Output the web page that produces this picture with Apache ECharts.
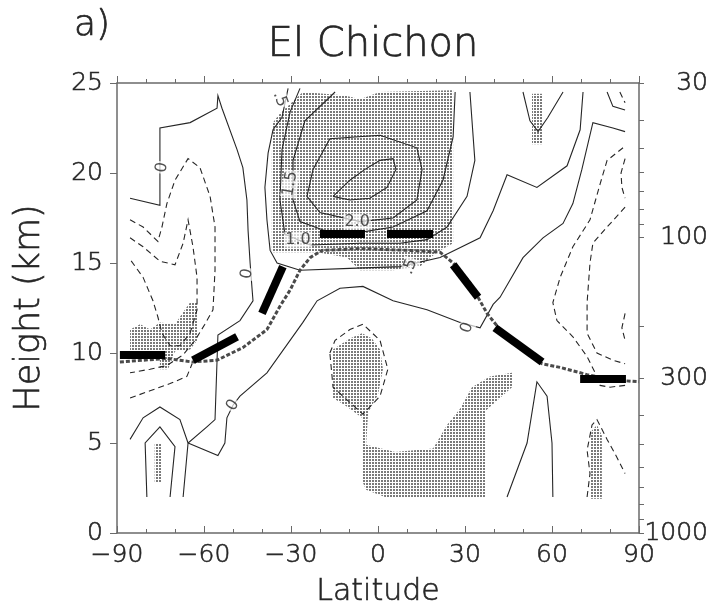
<!DOCTYPE html>
<html>
<head>
<meta charset="utf-8">
<script src="https://cdn.jsdelivr.net/npm/echarts@6/dist/echarts.min.js"></script>
<style>
  html, body { margin: 0; padding: 0; background: #fff; }
  #chart { width: 714px; height: 608px; }
</style>
</head>
<body>
<div id="chart"></div>
<script>
// ---- axes -------------------------------------------------------------
const latTicks = [-90, -60, -30, 0, 30, 60, 90];
const latTickLabels = ['−90', '−60', '−30', '0', '30', '60', '90'];
const pressureTicks = [30, 40, 50, 60, 70, 80, 90, 100, 200, 300, 400, 500, 600, 700, 800, 900, 1000];
const pressureLabels = [30, 100, 300, 1000];

// ---- tropopause (lat, km) ---------------------------------------------
const tropopause = [
  [-89, 9.5], [-72.8, 9.7], [-64.1, 9.5], [-55.5, 9.6], [-46.6, 10.3], [-38.3, 11.3],
  [-33.8, 12.6], [-30.3, 13.5], [-26.9, 14.6], [-23.4, 15.3], [-19.3, 15.7], [-6.2, 15.8],
  [11, 15.7], [21.4, 15.6], [25.9, 15.0], [31.7, 13.9], [37.6, 12.2], [42.1, 11.3],
  [49, 10.3], [56.6, 9.4], [62.8, 9.2], [72.1, 8.8], [81.7, 8.5], [90, 8.4]
];

// ---- observed tropopause segments (lat0, km0) -> (lat1, km1) ------------
const obsSegments = [
  [[-89, 9.9], [-73.4, 9.9]],
  [[-63.8, 9.6], [-48.6, 10.9]],
  [[-40, 12.2], [-32.8, 14.8]],
  [[-20, 16.6], [-4.5, 16.6]],
  [[3.1, 16.6], [19, 16.6]],
  [[25.9, 14.9], [34.5, 13.1]],
  [[40.3, 11.4], [56.6, 9.5]],
  [[69.7, 8.55], [85.5, 8.55]]
];

// ---- positive / zero contours ------------------------------------------
const c05 = [[-31.0, 24.7], [-33.1, 23.1], [-36.2, 22.4], [-37.9, 21.1], [-39.0, 19.2], [-38.3, 17.4],
  [-37.2, 15.7], [-34.8, 15.0], [-26.9, 14.6], [-9.7, 14.7], [7.6, 14.8], [21.4, 15.3], [35.2, 16.4],
  [39.7, 17.9], [44.5, 19.9], [54.8, 19.2], [65.2, 20.4], [69.7, 22.4], [70.7, 24.5]];
const c10 = [[-26.9, 24.7], [-30.3, 23.4], [-33.1, 21.3], [-33.8, 18.5], [-32.1, 16.6], [-23.4, 16.0],
  [-6.2, 16.1], [7.6, 16.1], [16.9, 16.3], [23.8, 17.0], [30.7, 18.7], [33.4, 20.7], [31.7, 24.5]];
const c15 = [[-14.8, 24.5], [-25.2, 22.9], [-29.3, 20.7], [-29.3, 18.5], [-26.9, 17.3], [-16.6, 16.7],
  [-6.2, 16.7], [5.2, 17.0], [16.9, 17.9], [22.4, 19.6], [25.9, 22.0], [26.6, 24.5]];
const c20 = [[-24.5, 18.7], [-22.4, 20.2], [-16.6, 21.9], [0.7, 22.1], [13.4, 21.4], [15.2, 20.2],
  [13.4, 18.5], [5.2, 17.5], [-6.2, 17.3], [-20.0, 17.8], [-24.5, 18.7]];
const c25 = [[-15.5, 18.7], [-9.7, 19.6], [-4.5, 20.2], [0.7, 20.7], [5.2, 20.8], [6.2, 20.2],
  [3.1, 19.2], [-2.8, 18.6], [-9.7, 18.5], [-15.5, 18.7]];
const zeroWest = [[-85.5, 18.6], [-75.2, 18.2], [-75.2, 22.5], [-64.8, 22.8], [-55.5, 23.6], [-55.2, 24.3],
  [-53.8, 23.6], [-48.6, 21.3], [-46.6, 20.3], [-45.2, 18.5], [-44.8, 16.8], [-44.1, 15.0], [-43.4, 13.5],
  [-43.1, 12.9], [-47.6, 11.8], [-55.2, 11.0], [-55.5, 9.6], [-56.2, 6.3], [-59.0, 5.9], [-65.5, 5.0], [-67.2, 2.0]];
const zeroMid = [[-65.5, 5.0], [-55.2, 4.3], [-52.8, 5.0], [-52.1, 6.4], [-50, 7.1], [-47.6, 7.6], [-38.3, 8.9],
  [-25.9, 11.7], [-21, 12.9], [-13.1, 13.6], [-5.2, 13.7], [5.2, 12.9], [16.9, 12.4], [28.3, 11.7], [35.2, 11.4],
  [39.7, 12.7], [42.1, 13.1], [50, 15.3], [56.9, 16.4], [63.8, 17.2], [67.2, 18.3], [70.3, 20.2], [74.1, 22.8],
  [81, 22.5], [85.2, 22.3]];
const zeroPolarOuter = [[-85.5, 5.2], [-81, 6.4], [-75.2, 7.0], [-68.3, 6.3], [-65.5, 5.0]];
const zeroPolarInner = [[-79.7, 2.0], [-80.3, 5.0], [-75.2, 5.9], [-70, 4.8], [-71.7, 2.0]];
const zeroNorthPeak = [[44.5, 2.0], [51.4, 5.0], [54.8, 8.4], [58.3, 7.6], [60, 5.0], [60.3, 2.0]];
const zeroTopV = [[50, 24.5], [52.4, 22.9], [55.2, 22.3], [58.6, 23.1], [63.8, 24.5]];
const zeroTopCorner = [[79, 24.5], [81, 23.7], [85.2, 23.5]];

// ---- negative contours -------------------------------------------------
const negA = [[-85.5, 17.4], [-81.0, 17.0], [-75.9, 16.2], [-74.5, 17.0], [-72.8, 18.3], [-70.0, 19.6],
  [-65.5, 20.8], [-61.4, 20.3], [-57.9, 18.7], [-56.2, 17.0], [-56.2, 14.6], [-56.9, 12.4], [-59.7, 11.6],
  [-63.1, 10.7], [-67.2, 9.9], [-72.8, 9.3], [-78.6, 9.1], [-85.5, 8.9]];
const negB = [[-85.5, 16.4], [-81.0, 15.9], [-75.2, 15.1], [-70.0, 14.9], [-67.2, 16.1], [-65.5, 17.4],
  [-63.8, 15.9], [-62.4, 14.2], [-62.4, 12.4], [-64.8, 11.1], [-68.3, 10.4], [-71.7, 10.4], [-74.5, 11.1],
  [-75.9, 12.0], [-77.6, 12.9], [-81.0, 14.2], [-85.5, 15.2]];
const negD = [[-85.5, 7.5], [-78.6, 7.9], [-71.7, 8.3], [-65.9, 8.7], [-64.1, 9.4]];
const negE = [[84.5, 21.4], [79.0, 20.7], [76.6, 19.4], [73.1, 17.4], [67.2, 15.9], [62.8, 14.2], [60.3, 12.8],
  [61.7, 11.8], [67.2, 10.9], [72.1, 9.8], [75.5, 8.7], [76.6, 8.2], [80.0, 8.1], [85.2, 8.2]];
const negF = [[85.2, 18.1], [79.0, 17.0], [74.1, 16.1], [73.1, 15.0], [72.1, 12.8], [72.1, 11.1], [75.5, 10.0],
  [81.0, 9.6], [85.2, 9.4]];
const negG = [[85.2, 20.8], [83.8, 20.0], [84.1, 19.2], [85.2, 18.6]];
const negH = [[85.2, 12.2], [84.1, 11.4], [85.2, 10.7]];
const negI = [[72.1, 2.0], [73.1, 3.3], [72.1, 4.6], [73.8, 6.0], [75.5, 6.3], [79.0, 5.2], [82.4, 4.2], [85.2, 3.3]];
const negJ = [[-16.6, 10.0], [-14.8, 10.7], [-9.7, 11.3], [-5.2, 11.6], [0.7, 10.7], [3.4, 9.1], [0.7, 7.6],
  [-5.2, 6.6], [-10.7, 7.4], [-15.5, 8.1], [-16.6, 10.0]];
const negK = [[83.4, 24.5], [85.2, 23.9]];

const solidContours = [c05, c10, c15, c20, c25, zeroWest, zeroMid, zeroPolarOuter, zeroPolarInner,
  zeroNorthPeak, zeroTopV, zeroTopCorner];
const dashedContours = [negA, negB, negD, negE, negF, negG, negH, negI, negJ, negK];

// ---- significance (stippled) regions -----------------------------------
const sigUpper = [[-25.9, 24.5], [-11.4, 24.3], [-6.2, 24.1], [0.7, 24.5], [25.9, 24.6], [25.9, 16.1],
  [20.3, 15.6], [14.5, 14.8], [5.2, 14.6], [-6.2, 14.6], [-10.7, 15.3], [-21.0, 15.6], [-36.6, 15.6],
  [-36.6, 21.1], [-36.2, 22.8], [-33.8, 23.3]];
const sigSouthPolar = [[-85.5, 11.3], [-82, 11.6], [-78.6, 11.3], [-75.2, 11.7], [-70, 11.6], [-66.6, 12.4],
  [-64.8, 12.8], [-62.4, 12.8], [-62.4, 10.7], [-64.8, 10.2], [-70, 10.1], [-72.4, 9.1], [-75.2, 9.1],
  [-75.2, 10.1], [-85.5, 10.1]];
const sigSouthLow = [[-77, 2.8], [-74.5, 2.8], [-74.5, 5.0], [-77, 5.0]];
const sigTropics = [[-15.5, 10.2], [-9.7, 10.8], [-5.5, 11.1], [-2.1, 10.8], [0.7, 10.2], [1.7, 9.1],
  [0, 7.7], [-3.4, 6.7], [-4.1, 4.9], [5.9, 4.5], [19, 4.7], [23.8, 6.0], [28.3, 6.9], [32.4, 8.1],
  [38.6, 8.7], [46.2, 8.9], [46.2, 8.1], [37.2, 6.8], [37.2, 2.0], [2.4, 2.0], [-4.1, 2.4], [-5.5, 2.9],
  [-5.5, 6.4], [-11.4, 7.1], [-15.5, 7.5]];
const sigNorthTop = [[53.1, 21.6], [56.9, 21.6], [56.9, 24.4], [53.1, 24.4]];
const sigNorthLow = [[73.8, 5.7], [75.5, 6.0], [77.2, 5.4], [77.2, 1.9], [73.1, 1.9], [73.1, 5.2]];
const sigRegions = [sigUpper, sigSouthPolar, sigSouthLow, sigTropics, sigNorthTop, sigNorthLow];

// ---- contour labels: text, lat, km --------------------------------------
const labelTexts = ['0', '0', '0', '0', '.5', '1.5', '1.0', '2.0', '.5'];
const labelPoints = [[-74.5, 20.3], [-45.2, 14.4], [-50, 7.1], [30.7, 11.4], [-33.8, 24.1],
  [-30.3, 19.4], [-27.6, 16.3], [-7.2, 17.3], [11, 14.8]];
const labelAngles = [80, 80, 60, 70, -70, 80, 0, 0, 70];

// ---- drawing -----------------------------------------------------------
const FONT = 'DejaVu Sans';
const WEIGHT = 200;
const INK = '#262626';
const AXIS = '#6a6a6a';
// a hair of outline in the text colour gives the light face a touch more body
const TEXT_BODY = { textBorderColor: INK, textBorderWidth: 0.6 };

function dotPattern() {
  const c = document.createElement('canvas');
  c.width = 3; c.height = 3;
  const g = c.getContext('2d');
  g.fillStyle = '#7a7a7a';
  g.fillRect(0, 0, 2, 2);
  return { image: c, repeat: 'repeat' };
}
const stipple = dotPattern();

const chart = echarts.init(document.getElementById('chart'), null, { renderer: 'canvas' });

const xCommon = {
  type: 'value', min: -90, max: 90, interval: 30,
  splitLine: { show: false },
  axisLine: { show: true, onZero: false, lineStyle: { color: AXIS, width: 1.5 } },
  minorTick: { show: true, splitNumber: 3, length: 4, lineStyle: { color: AXIS } },
  axisTick: { length: 7, lineStyle: { color: AXIS } }
};
const tickText = Object.assign({ fontFamily: FONT, fontWeight: WEIGHT, fontSize: 25, color: INK }, TEXT_BODY);
const nameText = Object.assign({ fontFamily: FONT, fontWeight: WEIGHT, color: INK }, TEXT_BODY);

chart.setOption({
  animation: false,
  backgroundColor: '#fff',
  grid: { left: 117, right: 75, top: 83, bottom: 75, outerBoundsMode: 'none' },
  graphic: [
    { type: 'text', x: 74, y: 26, style: { text: 'a)', font: WEIGHT + ' 36px "DejaVu Sans"', fill: INK, stroke: INK, lineWidth: 0.7, textVerticalAlign: 'middle' } },
    { type: 'text', x: 373, y: 46, style: { text: 'El Chichon', font: WEIGHT + ' 40px "DejaVu Sans"', fill: INK, stroke: INK, lineWidth: 0.7, textAlign: 'center', textVerticalAlign: 'middle' } }
  ],
  xAxis: [
    Object.assign({}, xCommon, {
      position: 'bottom',
      axisTick: { inside: true, length: 7, lineStyle: { color: AXIS } },
      minorTick: { show: true, splitNumber: 3, length: 4, lineStyle: { color: AXIS } },
      axisLabel: Object.assign({ margin: 10, formatter: v => latTickLabels[latTicks.indexOf(v)] }, tickText),
      name: 'Latitude', nameLocation: 'middle', nameGap: 44,
      nameTextStyle: Object.assign({ fontSize: 30 }, nameText)
    }),
    Object.assign({}, xCommon, {
      position: 'top',
      axisLabel: { show: false }
    })
  ],
  yAxis: [
    {
      type: 'value', min: 0, max: 25, interval: 5, position: 'left',
      splitLine: { show: false },
      axisLine: { show: true, onZero: false, lineStyle: { color: AXIS, width: 1.5 } },
      axisTick: { length: 7, lineStyle: { color: AXIS } },
      axisLabel: Object.assign({ margin: 14 }, tickText),
      name: 'Height (km)', nameLocation: 'middle', nameRotate: 90, nameGap: 70,
      nameTextStyle: Object.assign({ fontSize: 35 }, nameText)
    },
    {
      type: 'log', logBase: 10, min: 30, max: 1000, inverse: true, position: 'right',
      splitLine: { show: false },
      axisLine: { show: true, onZero: false, lineStyle: { color: AXIS, width: 1.5 } },
      axisTick: { customValues: pressureTicks, length: 5, lineStyle: { color: AXIS } },
      axisLabel: Object.assign({
        customValues: pressureLabels, align: 'right', margin: 69,
        formatter: v => String(Math.round(v))
      }, tickText)
    }
  ],
  series: [
    {
      type: 'custom', coordinateSystem: 'cartesian2d', silent: true, z: 1,
      data: sigRegions.map(r => r[0]),
      renderItem: (params, api) => ({
        type: 'polygon',
        shape: { points: sigRegions[params.dataIndex].map(p => api.coord(p)) },
        style: { fill: stipple, stroke: null }
      })
    },
    {
      type: 'lines', coordinateSystem: 'cartesian2d', polyline: true, silent: true, z: 2,
      data: solidContours.map(c => ({ coords: c })),
      lineStyle: { color: INK, width: 1.1, opacity: 1 }
    },
    {
      type: 'lines', coordinateSystem: 'cartesian2d', polyline: true, silent: true, z: 2,
      data: dashedContours.map(c => ({ coords: c })),
      lineStyle: { color: INK, width: 1.1, opacity: 1, type: [6, 4] }
    },
    {
      type: 'line', data: tropopause, symbol: 'none', silent: true, z: 3,
      lineStyle: { color: '#4a4a4a', width: 3, type: [4, 2] }
    },
    {
      type: 'lines', coordinateSystem: 'cartesian2d', silent: true, z: 4,
      data: obsSegments.map(s => ({ coords: s })),
      lineStyle: { color: '#000', width: 8, opacity: 1, cap: 'butt' }
    },
    {
      type: 'scatter', silent: true, z: 5, symbolSize: 0,
      data: labelPoints.map((p, i) => ({
        value: p, name: labelTexts[i],
        label: { rotate: labelAngles[i] }
      })),
      label: {
        show: true, position: 'inside', formatter: '{b}',
        fontFamily: FONT, fontSize: 16, color: INK,
        backgroundColor: 'rgba(255,255,255,0.85)', padding: [0, 1]
      }
    }
  ]
});
</script>
</body>
</html>
